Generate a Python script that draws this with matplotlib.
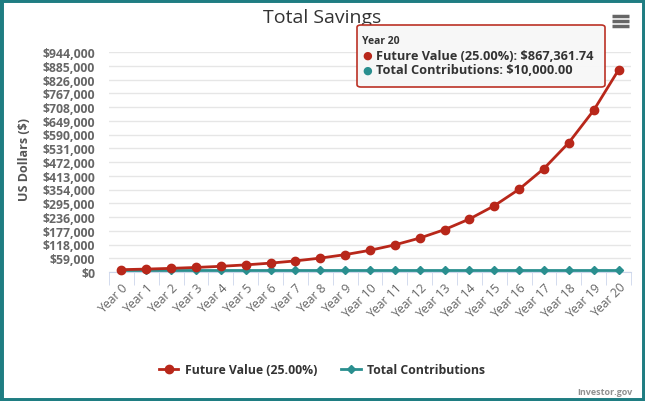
import matplotlib
matplotlib.use("Agg")
import matplotlib.pyplot as plt
from matplotlib.patches import FancyBboxPatch, Rectangle
from matplotlib.lines import Line2D

# data
years = ["Year %d" % i for i in range(21)]
future_value = [10000.00, 12500.00, 15625.00, 19531.25, 24414.06, 30517.58,
                38146.97, 47683.72, 59604.64, 74505.81, 93132.26, 116415.32,
                145519.15, 181898.94, 227373.68, 284217.09, 355271.37,
                444089.21, 555111.51, 693889.39, 867361.74]
contributions = [10000.00] * 21
y_ticks = [0, 59000, 118000, 177000, 236000, 295000, 354000, 413000, 472000,
           531000, 590000, 649000, 708000, 767000, 826000, 885000, 944000]

red = "#b8271a"
teal = "#2a8f8f"
frame = "#1f7d82"
W, H = 645, 402

plt.rcParams["font.family"] = ["Open Sans", "DejaVu Sans"]

fig = plt.figure(figsize=(W / 100, H / 100), dpi=100)
fig.patch.set_facecolor("white")

def fx(px):
    return px / W

def fy(py):
    return 1 - py / H

ax = fig.add_axes([fx(109), fy(273), fx(631) - fx(109), fy(53) - fy(273)])
x = list(range(len(years)))
ax.plot(x, future_value, color=red, lw=2, marker="o", ms=6, clip_on=False, zorder=4)
ax.plot(x, contributions, color=teal, lw=2, marker="D", ms=4.5, clip_on=False, zorder=3)

ax.set_xlim(-0.5, 20.5)
ax.set_ylim(0, 944000)
ax.set_yticks(y_ticks)
ax.set_yticklabels(["${:,}".format(v) for v in y_ticks], fontsize=8.8,
                   fontweight="bold", color="#666666")
ax.grid(axis="y", color="#e6e6e6", lw=1)
ax.set_axisbelow(True)
for s in ["top", "right", "left"]:
    ax.spines[s].set_visible(False)
ax.spines["bottom"].set_color("#ccd6eb")
ax.tick_params(axis="y", length=0, pad=10)

ax.set_xticks(x)
ax.set_xticklabels(years, rotation=45, ha="right", rotation_mode="anchor",
                   fontsize=8.8, color="#666666")
ax.tick_params(axis="x", length=0, pad=6)
ax.set_xticks([i - 0.5 for i in range(22)], minor=True)
ax.tick_params(axis="x", which="minor", length=9, color="#ccd6eb")

fig.text(fx(25), fy(160), "US Dollars ($)", rotation=90, ha="center", va="center",
         fontsize=9, fontweight="bold", color="#555555")
fig.text(fx(322), fy(18), "Total Savings", ha="center", va="center",
         fontsize=14, color="#333333")

# legend
handles = [Line2D([], [], color=red, lw=2, marker="o", ms=6),
           Line2D([], [], color=teal, lw=2, marker="D", ms=4.5)]
fig.legend(handles, ["Future Value (25.00%)", "Total Contributions"],
           loc="center", bbox_to_anchor=(fx(322), fy(371)), ncol=2, frameon=False,
           prop={"weight": "bold", "size": 8.8}, handlelength=1.6, columnspacing=2.0,
           handletextpad=0.5, labelcolor="#333333")

# tooltip
tip = FancyBboxPatch((fx(357), fy(88)), fx(605) - fx(357), fy(26) - fy(88),
                     boxstyle="round,pad=0,rounding_size=0.006", transform=fig.transFigure,
                     facecolor="#f7f7f7", edgecolor=red, lw=1.2, alpha=0.95, zorder=10)
fig.patches.append(tip)
fig.text(fx(362), fy(42), "Year 20", fontsize=7.5, fontweight="bold", color="#333333",
         va="center", zorder=11)
fig.text(fx(362), fy(56), "\u25cf", fontsize=8, color=red, va="center", zorder=11)
fig.text(fx(376), fy(56), "Future Value (25.00%): $867,361.74", fontsize=9.2,
         fontweight="bold", color="#333333", va="center", zorder=11)
fig.text(fx(362), fy(71), "\u25cf", fontsize=8, color=teal, va="center", zorder=11)
fig.text(fx(376), fy(71), "Total Contributions: $10,000.00", fontsize=9.2,
         fontweight="bold", color="#333333", va="center", zorder=11)

# menu icon
for py in [17, 22, 27]:
    fig.add_artist(Line2D([fx(612), fx(629)], [fy(py), fy(py)], color="#666666",
                          lw=2.5, solid_capstyle="butt"))

fig.text(fx(632), fy(393), "Investor.gov", ha="right", va="center", fontsize=6.5,
         fontweight="bold", color="#909090")

# outer frame
fig.add_artist(Rectangle((0, 0), 1, 1, transform=fig.transFigure, fill=False,
                         edgecolor=frame, lw=5))

fig.savefig("out.png", dpi=100)
